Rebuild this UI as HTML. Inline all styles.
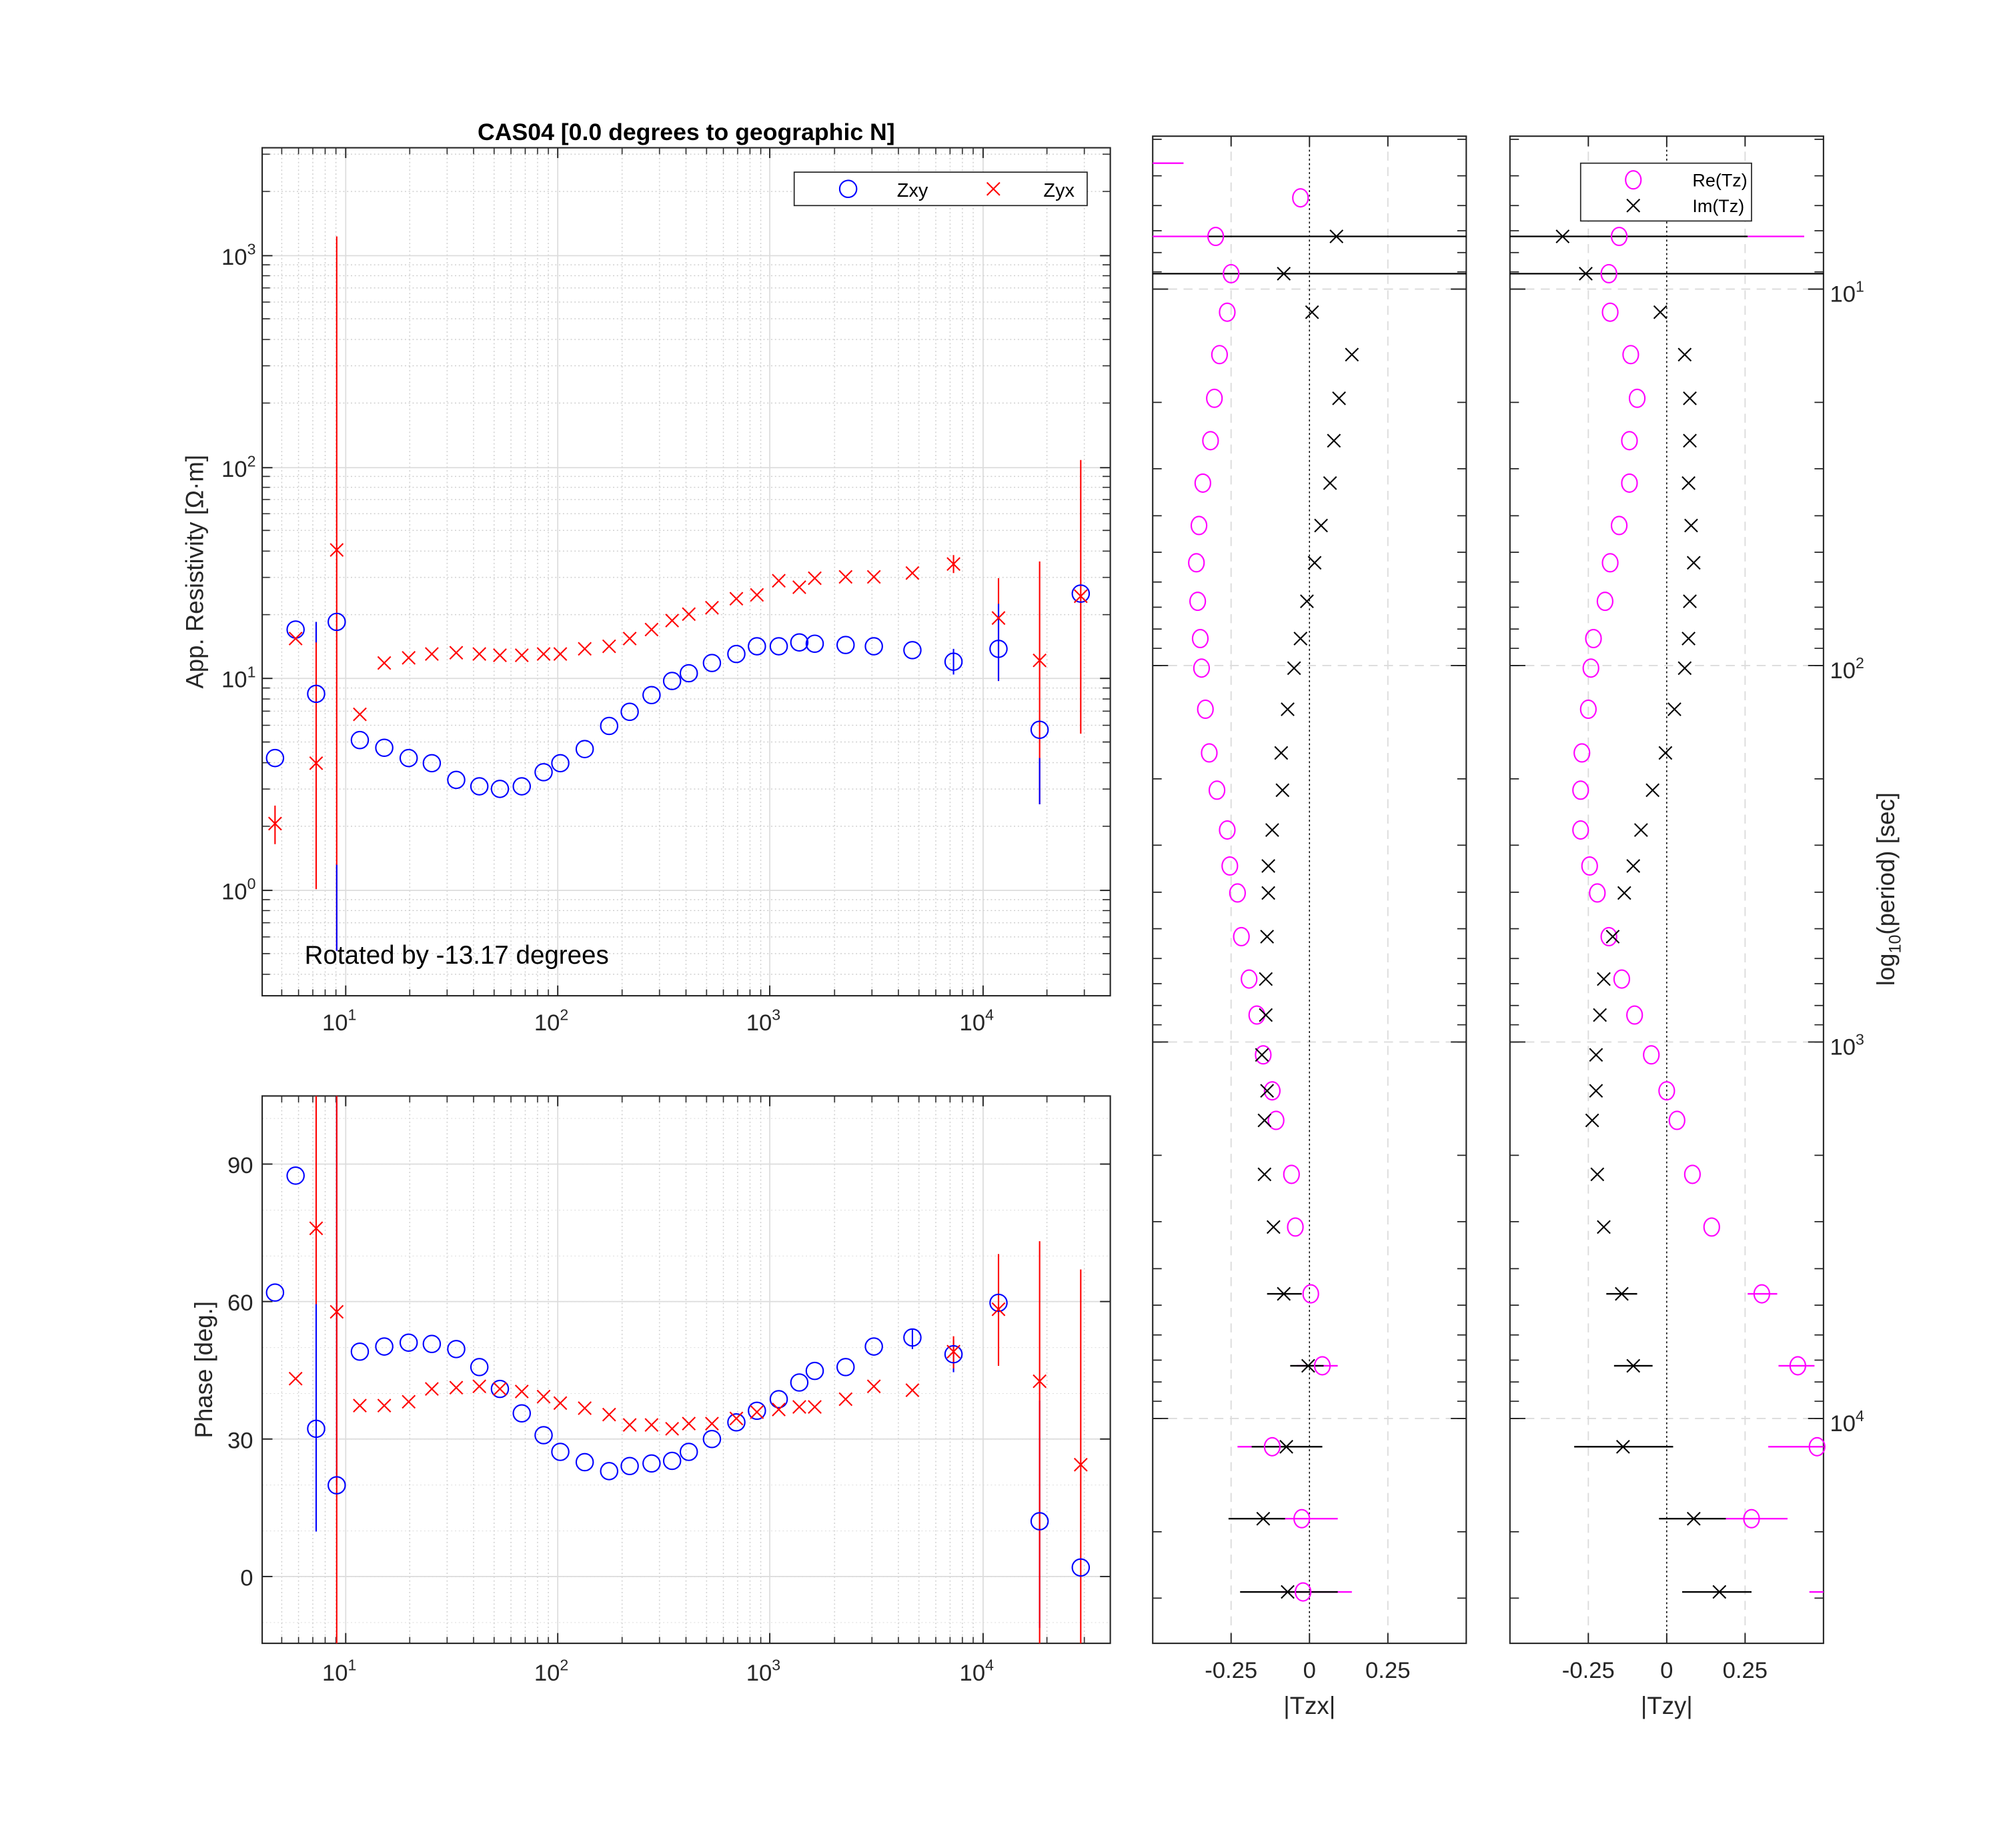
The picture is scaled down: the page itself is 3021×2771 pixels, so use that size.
<!DOCTYPE html>
<html><head><meta charset="utf-8"><style>html,body{margin:0;padding:0;background:#fff}svg{display:block}</style></head><body>
<svg xmlns="http://www.w3.org/2000/svg" xmlns:xlink="http://www.w3.org/1999/xlink" width="3021" height="2771" viewBox="0 0 1568 1438.3" font-family="Liberation Sans, sans-serif">
<defs>
<circle id="c" r="6.6" fill="none" stroke-width="1.1"/>
<ellipse id="e" rx="6" ry="7" fill="none" stroke-width="1.1"/>
<path id="x" d="M-5-5L5 5M-5 5L5-5" fill="none" stroke-width="1.1"/>
<pattern id="gxm" patternUnits="userSpaceOnUse" x="269" y="0" width="165.3" height="3">
<g stroke="#c8c8c8" stroke-width="0.7"><line x1="49.8" y1="0" x2="49.8" y2="1"/><line x1="78.9" y1="0" x2="78.9" y2="1"/><line x1="99.5" y1="0" x2="99.5" y2="1"/><line x1="115.5" y1="0" x2="115.5" y2="1"/><line x1="128.6" y1="0" x2="128.6" y2="1"/><line x1="139.7" y1="0" x2="139.7" y2="1"/><line x1="149.3" y1="0" x2="149.3" y2="1"/><line x1="157.7" y1="0" x2="157.7" y2="1"/></g></pattern>
<pattern id="gym" patternUnits="userSpaceOnUse" x="0" y="363.3" width="3" height="164.7">
<g stroke="#c8c8c8" stroke-width="0.7"><line y1="115.1" x1="0" y2="115.1" x2="1"/><line y1="86.1" x1="0" y2="86.1" x2="1"/><line y1="65.6" x1="0" y2="65.6" x2="1"/><line y1="49.5" x1="0" y2="49.5" x2="1"/><line y1="36.5" x1="0" y2="36.5" x2="1"/><line y1="25.5" x1="0" y2="25.5" x2="1"/><line y1="16" x1="0" y2="16" x2="1"/><line y1="7.5" x1="0" y2="7.5" x2="1"/></g></pattern>
<pattern id="gph" patternUnits="userSpaceOnUse" x="0" y="1227" width="3" height="35.67">
<line x1="0" y1="0" x2="1" y2="0" stroke="#c8c8c8" stroke-width="0.7"/></pattern>
<pattern id="txm" patternUnits="userSpaceOnUse" x="269" y="0" width="165.3" height="10">
<g stroke="#222" stroke-width="0.8"><line x1="49.8" y1="0" x2="49.8" y2="10"/><line x1="78.9" y1="0" x2="78.9" y2="10"/><line x1="99.5" y1="0" x2="99.5" y2="10"/><line x1="115.5" y1="0" x2="115.5" y2="10"/><line x1="128.6" y1="0" x2="128.6" y2="10"/><line x1="139.7" y1="0" x2="139.7" y2="10"/><line x1="149.3" y1="0" x2="149.3" y2="10"/><line x1="157.7" y1="0" x2="157.7" y2="10"/></g></pattern>
<pattern id="tym" patternUnits="userSpaceOnUse" x="0" y="363.3" width="10" height="164.7">
<g stroke="#222" stroke-width="0.8"><line y1="115.1" x1="0" y2="115.1" x2="10"/><line y1="86.1" x1="0" y2="86.1" x2="10"/><line y1="65.6" x1="0" y2="65.6" x2="10"/><line y1="49.5" x1="0" y2="49.5" x2="10"/><line y1="36.5" x1="0" y2="36.5" x2="10"/><line y1="25.5" x1="0" y2="25.5" x2="10"/><line y1="16" x1="0" y2="16" x2="10"/><line y1="7.5" x1="0" y2="7.5" x2="10"/></g></pattern>
<pattern id="ttk" patternUnits="userSpaceOnUse" x="0" y="225" width="10" height="293">
<g stroke="#222" stroke-width="0.9"><line y1="0" x1="0" y2="0" x2="10"/><line y1="88.2" x1="0" y2="88.2" x2="10"/><line y1="139.8" x1="0" y2="139.8" x2="10"/><line y1="176.4" x1="0" y2="176.4" x2="10"/><line y1="204.8" x1="0" y2="204.8" x2="10"/><line y1="228" x1="0" y2="228" x2="10"/><line y1="247.6" x1="0" y2="247.6" x2="10"/><line y1="264.6" x1="0" y2="264.6" x2="10"/><line y1="279.6" x1="0" y2="279.6" x2="10"/></g></pattern>
</defs>

<!-- ===== TOP PANEL ===== -->
<rect x="204" y="115" width="660" height="660" fill="url(#gxm)"/>
<rect x="204" y="115" width="660" height="660" fill="url(#gym)"/>
<g stroke="#dcdcdc" stroke-width="0.9">
<line x1="269" y1="115" x2="269" y2="775"/><line x1="434" y1="115" x2="434" y2="775"/><line x1="599" y1="115" x2="599" y2="775"/><line x1="765" y1="115" x2="765" y2="775"/>
<line x1="204" y1="199" x2="864" y2="199"/><line x1="204" y1="364" x2="864" y2="364"/><line x1="204" y1="528" x2="864" y2="528"/><line x1="204" y1="693" x2="864" y2="693"/>
</g>
<rect x="204" y="115" width="6" height="660" fill="url(#tym)"/>
<rect x="858" y="115" width="6" height="660" fill="url(#tym)"/>
<rect x="204" y="115" width="660" height="5" fill="url(#txm)"/>
<rect x="204" y="770" width="660" height="5" fill="url(#txm)"/>
<g stroke="#222" stroke-width="1">
<line x1="269" y1="115" x2="269" y2="123"/><line x1="434" y1="115" x2="434" y2="123"/><line x1="599" y1="115" x2="599" y2="123"/><line x1="765" y1="115" x2="765" y2="123"/>
<line x1="269" y1="767" x2="269" y2="775"/><line x1="434" y1="767" x2="434" y2="775"/><line x1="599" y1="767" x2="599" y2="775"/><line x1="765" y1="767" x2="765" y2="775"/>
<line x1="204" y1="199" x2="212" y2="199"/><line x1="204" y1="364" x2="212" y2="364"/><line x1="204" y1="528" x2="212" y2="528"/><line x1="204" y1="693" x2="212" y2="693"/>
<line x1="856" y1="199" x2="864" y2="199"/><line x1="856" y1="364" x2="864" y2="364"/><line x1="856" y1="528" x2="864" y2="528"/><line x1="856" y1="693" x2="864" y2="693"/>
</g>
<rect x="204" y="115" width="660" height="660" fill="none" stroke="#262626" stroke-width="1.1"/>
<g stroke="#f00" stroke-width="1.1">
<line x1="214" y1="627" x2="214" y2="657"/><line x1="246" y1="484" x2="246" y2="692"/><line x1="262" y1="184" x2="262" y2="740"/>
<line x1="742" y1="432" x2="742" y2="446"/><line x1="777" y1="450" x2="777" y2="530"/><line x1="809" y1="437" x2="809" y2="626"/><line x1="841" y1="358" x2="841" y2="571"/>
</g>
<g stroke="#00f" stroke-width="1.1">
<line x1="262" y1="673" x2="262" y2="740"/><line x1="742" y1="505" x2="742" y2="525"/><line x1="777" y1="470" x2="777" y2="530"/><line x1="809" y1="590" x2="809" y2="626"/><line x1="246" y1="484" x2="246" y2="500"/>
</g>
<g stroke="#00f">
<use xlink:href="#c" x="214" y="590"/><use xlink:href="#c" x="230" y="490"/><use xlink:href="#c" x="246" y="540"/><use xlink:href="#c" x="262" y="484"/><use xlink:href="#c" x="280" y="576"/><use xlink:href="#c" x="299" y="582"/><use xlink:href="#c" x="318" y="590"/><use xlink:href="#c" x="336" y="594"/><use xlink:href="#c" x="355" y="607"/><use xlink:href="#c" x="373" y="612"/><use xlink:href="#c" x="389" y="614"/><use xlink:href="#c" x="406" y="612"/><use xlink:href="#c" x="423" y="601"/><use xlink:href="#c" x="436" y="594"/><use xlink:href="#c" x="455" y="583"/><use xlink:href="#c" x="474" y="565"/><use xlink:href="#c" x="490" y="554"/><use xlink:href="#c" x="507" y="541"/><use xlink:href="#c" x="523" y="530"/><use xlink:href="#c" x="536" y="524"/><use xlink:href="#c" x="554" y="516"/><use xlink:href="#c" x="573" y="509"/><use xlink:href="#c" x="589" y="503"/><use xlink:href="#c" x="606" y="503"/><use xlink:href="#c" x="622" y="500"/><use xlink:href="#c" x="634" y="501"/><use xlink:href="#c" x="658" y="502"/><use xlink:href="#c" x="680" y="503"/><use xlink:href="#c" x="710" y="506"/><use xlink:href="#c" x="742" y="515"/><use xlink:href="#c" x="777" y="505"/><use xlink:href="#c" x="809" y="568"/><use xlink:href="#c" x="841" y="462"/>
</g>
<g stroke="#f00">
<use xlink:href="#x" x="214" y="641"/><use xlink:href="#x" x="230" y="497"/><use xlink:href="#x" x="246" y="594"/><use xlink:href="#x" x="262" y="428"/><use xlink:href="#x" x="280" y="556"/><use xlink:href="#x" x="299" y="516"/><use xlink:href="#x" x="318" y="512"/><use xlink:href="#x" x="336" y="509"/><use xlink:href="#x" x="355" y="508"/><use xlink:href="#x" x="373" y="509"/><use xlink:href="#x" x="389" y="510"/><use xlink:href="#x" x="406" y="510"/><use xlink:href="#x" x="423" y="509"/><use xlink:href="#x" x="436" y="509"/><use xlink:href="#x" x="455" y="505"/><use xlink:href="#x" x="474" y="503"/><use xlink:href="#x" x="490" y="497"/><use xlink:href="#x" x="507" y="490"/><use xlink:href="#x" x="523" y="483"/><use xlink:href="#x" x="536" y="478"/><use xlink:href="#x" x="554" y="473"/><use xlink:href="#x" x="573" y="466"/><use xlink:href="#x" x="589" y="463"/><use xlink:href="#x" x="606" y="452"/><use xlink:href="#x" x="622" y="457"/><use xlink:href="#x" x="634" y="450"/><use xlink:href="#x" x="658" y="449"/><use xlink:href="#x" x="680" y="449"/><use xlink:href="#x" x="710" y="446"/><use xlink:href="#x" x="742" y="439"/><use xlink:href="#x" x="777" y="481"/><use xlink:href="#x" x="809" y="514"/><use xlink:href="#x" x="841" y="464"/>
</g>
<rect x="618" y="134" width="228" height="26" fill="#fff" stroke="#262626" stroke-width="0.9"/>
<use xlink:href="#c" x="660" y="147" stroke="#00f"/>
<text x="698" y="153" font-size="15">Zxy</text>
<use xlink:href="#x" x="773" y="147" stroke="#f00"/>
<text x="812" y="153" font-size="15">Zyx</text>
<text x="534" y="109" font-size="18.5" font-weight="bold" text-anchor="middle">CAS04 [0.0 degrees to geographic N]</text>
<g font-size="18" fill="#262626">
<text x="199" y="206" text-anchor="end">10<tspan font-size="12" dy="-8">3</tspan></text>
<text x="199" y="371" text-anchor="end">10<tspan font-size="12" dy="-8">2</tspan></text>
<text x="199" y="535" text-anchor="end">10<tspan font-size="12" dy="-8">1</tspan></text>
<text x="199" y="700" text-anchor="end">10<tspan font-size="12" dy="-8">0</tspan></text>
<text x="264" y="802" text-anchor="middle">10<tspan font-size="12" dy="-8">1</tspan></text>
<text x="429" y="802" text-anchor="middle">10<tspan font-size="12" dy="-8">2</tspan></text>
<text x="594" y="802" text-anchor="middle">10<tspan font-size="12" dy="-8">3</tspan></text>
<text x="760" y="802" text-anchor="middle">10<tspan font-size="12" dy="-8">4</tspan></text>
</g>
<text transform="translate(158,445) rotate(-90)" font-size="19" text-anchor="middle" fill="#262626">App. Resistivity [Ω·m]</text>
<text x="237" y="750" font-size="20">Rotated by -13.17 degrees</text>

<!-- ===== PHASE PANEL ===== -->
<rect x="204" y="853" width="660" height="426" fill="url(#gxm)"/>
<rect x="204" y="853" width="660" height="426" fill="url(#gph)"/>
<g stroke="#dcdcdc" stroke-width="0.9">
<line x1="269" y1="853" x2="269" y2="1279"/><line x1="434" y1="853" x2="434" y2="1279"/><line x1="599" y1="853" x2="599" y2="1279"/><line x1="765" y1="853" x2="765" y2="1279"/>
<line x1="204" y1="906" x2="864" y2="906"/><line x1="204" y1="1013" x2="864" y2="1013"/><line x1="204" y1="1120" x2="864" y2="1120"/><line x1="204" y1="1227" x2="864" y2="1227"/>
</g>
<rect x="204" y="853" width="660" height="5" fill="url(#txm)"/>
<rect x="204" y="1274" width="660" height="5" fill="url(#txm)"/>
<g stroke="#222" stroke-width="1">
<line x1="269" y1="853" x2="269" y2="861"/><line x1="434" y1="853" x2="434" y2="861"/><line x1="599" y1="853" x2="599" y2="861"/><line x1="765" y1="853" x2="765" y2="861"/>
<line x1="269" y1="1271" x2="269" y2="1279"/><line x1="434" y1="1271" x2="434" y2="1279"/><line x1="599" y1="1271" x2="599" y2="1279"/><line x1="765" y1="1271" x2="765" y2="1279"/>
<line x1="204" y1="906" x2="212" y2="906"/><line x1="204" y1="1013" x2="212" y2="1013"/><line x1="204" y1="1120" x2="212" y2="1120"/><line x1="204" y1="1227" x2="212" y2="1227"/>
<line x1="856" y1="906" x2="864" y2="906"/><line x1="856" y1="1013" x2="864" y2="1013"/><line x1="856" y1="1120" x2="864" y2="1120"/><line x1="856" y1="1227" x2="864" y2="1227"/>
</g>
<rect x="204" y="853" width="660" height="426" fill="none" stroke="#262626" stroke-width="1.1"/>
<g stroke="#00f" stroke-width="1.1">
<line x1="246" y1="1015" x2="246" y2="1192"/><line x1="262" y1="853" x2="262" y2="1156"/><line x1="710" y1="1034" x2="710" y2="1050"/><line x1="742" y1="1043" x2="742" y2="1068"/><line x1="809" y1="1090" x2="809" y2="1267"/>
</g>
<g stroke="#f00" stroke-width="1.1">
<line x1="246" y1="853" x2="246" y2="1015"/><line x1="262" y1="853" x2="262" y2="1279"/><line x1="742" y1="1040" x2="742" y2="1065"/><line x1="777" y1="976" x2="777" y2="1063"/><line x1="809" y1="966" x2="809" y2="1279"/><line x1="841" y1="988" x2="841" y2="1279"/>
</g>
<g stroke="#00f">
<use xlink:href="#c" x="214" y="1006"/><use xlink:href="#c" x="230" y="915"/><use xlink:href="#c" x="246" y="1112"/><use xlink:href="#c" x="262" y="1156"/><use xlink:href="#c" x="280" y="1052"/><use xlink:href="#c" x="299" y="1048"/><use xlink:href="#c" x="318" y="1045"/><use xlink:href="#c" x="336" y="1046"/><use xlink:href="#c" x="355" y="1050"/><use xlink:href="#c" x="373" y="1064"/><use xlink:href="#c" x="389" y="1081"/><use xlink:href="#c" x="406" y="1100"/><use xlink:href="#c" x="423" y="1117"/><use xlink:href="#c" x="436" y="1130"/><use xlink:href="#c" x="455" y="1138"/><use xlink:href="#c" x="474" y="1145"/><use xlink:href="#c" x="490" y="1141"/><use xlink:href="#c" x="507" y="1139"/><use xlink:href="#c" x="523" y="1137"/><use xlink:href="#c" x="536" y="1130"/><use xlink:href="#c" x="554" y="1120"/><use xlink:href="#c" x="573" y="1107"/><use xlink:href="#c" x="589" y="1098"/><use xlink:href="#c" x="606" y="1089"/><use xlink:href="#c" x="622" y="1076"/><use xlink:href="#c" x="634" y="1067"/><use xlink:href="#c" x="658" y="1064"/><use xlink:href="#c" x="680" y="1048"/><use xlink:href="#c" x="710" y="1041"/><use xlink:href="#c" x="742" y="1054"/><use xlink:href="#c" x="777" y="1014"/><use xlink:href="#c" x="809" y="1184"/><use xlink:href="#c" x="841" y="1220"/>
</g>
<g stroke="#f00">
<use xlink:href="#x" x="230" y="1073"/><use xlink:href="#x" x="246" y="956"/><use xlink:href="#x" x="262" y="1021"/><use xlink:href="#x" x="280" y="1094"/><use xlink:href="#x" x="299" y="1094"/><use xlink:href="#x" x="318" y="1091"/><use xlink:href="#x" x="336" y="1081"/><use xlink:href="#x" x="355" y="1080"/><use xlink:href="#x" x="373" y="1079"/><use xlink:href="#x" x="389" y="1081"/><use xlink:href="#x" x="406" y="1083"/><use xlink:href="#x" x="423" y="1087"/><use xlink:href="#x" x="436" y="1092"/><use xlink:href="#x" x="455" y="1096"/><use xlink:href="#x" x="474" y="1101"/><use xlink:href="#x" x="490" y="1109"/><use xlink:href="#x" x="507" y="1109"/><use xlink:href="#x" x="523" y="1112"/><use xlink:href="#x" x="536" y="1108"/><use xlink:href="#x" x="554" y="1108"/><use xlink:href="#x" x="573" y="1104"/><use xlink:href="#x" x="589" y="1099"/><use xlink:href="#x" x="606" y="1097"/><use xlink:href="#x" x="622" y="1095"/><use xlink:href="#x" x="634" y="1095"/><use xlink:href="#x" x="658" y="1089"/><use xlink:href="#x" x="680" y="1079"/><use xlink:href="#x" x="710" y="1082"/><use xlink:href="#x" x="742" y="1052"/><use xlink:href="#x" x="777" y="1019"/><use xlink:href="#x" x="809" y="1075"/><use xlink:href="#x" x="841" y="1140"/>
</g>
<g font-size="18" fill="#262626">
<text x="197" y="913" text-anchor="end">90</text>
<text x="197" y="1020" text-anchor="end">60</text>
<text x="197" y="1127" text-anchor="end">30</text>
<text x="197" y="1234" text-anchor="end">0</text>
<text x="264" y="1308" text-anchor="middle">10<tspan font-size="12" dy="-8">1</tspan></text>
<text x="429" y="1308" text-anchor="middle">10<tspan font-size="12" dy="-8">2</tspan></text>
<text x="594" y="1308" text-anchor="middle">10<tspan font-size="12" dy="-8">3</tspan></text>
<text x="760" y="1308" text-anchor="middle">10<tspan font-size="12" dy="-8">4</tspan></text>
</g>
<text transform="translate(165,1066) rotate(-90)" font-size="19" text-anchor="middle" fill="#262626">Phase [deg.]</text>

<!-- ===== TIPPER PANELS ===== -->
<g stroke="#dcdcdc" stroke-width="1" stroke-dasharray="7,5">
<line x1="958" y1="106" x2="958" y2="1279"/><line x1="1080" y1="106" x2="1080" y2="1279"/>
<line x1="897" y1="225" x2="1141" y2="225"/><line x1="897" y1="518" x2="1141" y2="518"/><line x1="897" y1="811" x2="1141" y2="811"/><line x1="897" y1="1104" x2="1141" y2="1104"/>
<line x1="1236" y1="106" x2="1236" y2="1279"/><line x1="1358" y1="106" x2="1358" y2="1279"/>
<line x1="1175" y1="225" x2="1419" y2="225"/><line x1="1175" y1="518" x2="1419" y2="518"/><line x1="1175" y1="811" x2="1419" y2="811"/><line x1="1175" y1="1104" x2="1419" y2="1104"/>
</g>
<g stroke="#000" stroke-width="0.8" stroke-dasharray="1.5,2">
<line x1="1019" y1="106" x2="1019" y2="1279"/><line x1="1297" y1="106" x2="1297" y2="1279"/>
</g>
<rect x="897" y="106" width="7" height="1173" fill="url(#ttk)"/>
<rect x="1134" y="106" width="7" height="1173" fill="url(#ttk)"/>
<rect x="1175" y="106" width="7" height="1173" fill="url(#ttk)"/>
<rect x="1412" y="106" width="7" height="1173" fill="url(#ttk)"/>
<g stroke="#222" stroke-width="1">
<line x1="897" y1="225" x2="909" y2="225"/><line x1="897" y1="518" x2="909" y2="518"/><line x1="897" y1="811" x2="909" y2="811"/><line x1="897" y1="1104" x2="909" y2="1104"/>
<line x1="1129" y1="225" x2="1141" y2="225"/><line x1="1129" y1="518" x2="1141" y2="518"/><line x1="1129" y1="811" x2="1141" y2="811"/><line x1="1129" y1="1104" x2="1141" y2="1104"/>
<line x1="1175" y1="225" x2="1187" y2="225"/><line x1="1175" y1="518" x2="1187" y2="518"/><line x1="1175" y1="811" x2="1187" y2="811"/><line x1="1175" y1="1104" x2="1187" y2="1104"/>
<line x1="1407" y1="225" x2="1419" y2="225"/><line x1="1407" y1="518" x2="1419" y2="518"/><line x1="1407" y1="811" x2="1419" y2="811"/><line x1="1407" y1="1104" x2="1419" y2="1104"/>
<line x1="958" y1="106" x2="958" y2="114"/><line x1="1019" y1="106" x2="1019" y2="114"/><line x1="1080" y1="106" x2="1080" y2="114"/>
<line x1="958" y1="1271" x2="958" y2="1279"/><line x1="1019" y1="1271" x2="1019" y2="1279"/><line x1="1080" y1="1271" x2="1080" y2="1279"/>
<line x1="1236" y1="106" x2="1236" y2="114"/><line x1="1297" y1="106" x2="1297" y2="114"/><line x1="1358" y1="106" x2="1358" y2="114"/>
<line x1="1236" y1="1271" x2="1236" y2="1279"/><line x1="1297" y1="1271" x2="1297" y2="1279"/><line x1="1358" y1="1271" x2="1358" y2="1279"/>
</g>
<rect x="897" y="106" width="244" height="1173" fill="none" stroke="#262626" stroke-width="1.1"/>
<rect x="1175" y="106" width="244" height="1173" fill="none" stroke="#262626" stroke-width="1.1"/>

<g stroke="#f0f" stroke-width="1.2">
<line x1="897" y1="127" x2="921" y2="127"/><line x1="897" y1="184" x2="940" y2="184"/>
<line x1="1009" y1="1063" x2="1041" y2="1063"/><line x1="963" y1="1126" x2="1002" y2="1126"/><line x1="997" y1="1182" x2="1041" y2="1182"/><line x1="997" y1="1239" x2="1052" y2="1239"/>
<line x1="1360" y1="184" x2="1404" y2="184"/><line x1="1360" y1="1007" x2="1383" y2="1007"/><line x1="1384" y1="1063" x2="1412" y2="1063"/><line x1="1376" y1="1126" x2="1419" y2="1126"/><line x1="1343" y1="1182" x2="1391" y2="1182"/><line x1="1408" y1="1239" x2="1419" y2="1239"/>
</g>
<g stroke="#000" stroke-width="1.2">
<line x1="940" y1="184" x2="1141" y2="184"/><line x1="897" y1="213" x2="1141" y2="213"/>
<line x1="986" y1="1007" x2="1013" y2="1007"/><line x1="1004" y1="1063" x2="1030" y2="1063"/><line x1="974" y1="1126" x2="1029" y2="1126"/><line x1="956" y1="1182" x2="1000" y2="1182"/><line x1="965" y1="1239" x2="1041" y2="1239"/>
<line x1="1175" y1="184" x2="1360" y2="184"/><line x1="1175" y1="213" x2="1419" y2="213"/>
<line x1="1250" y1="1007" x2="1274" y2="1007"/><line x1="1256" y1="1063" x2="1286" y2="1063"/><line x1="1225" y1="1126" x2="1302" y2="1126"/><line x1="1291" y1="1182" x2="1343" y2="1182"/><line x1="1309" y1="1239" x2="1363" y2="1239"/>
</g>
<g stroke="#f0f">
<use xlink:href="#e" x="1012" y="154"/><use xlink:href="#e" x="946" y="184"/><use xlink:href="#e" x="958" y="213"/><use xlink:href="#e" x="955" y="243"/><use xlink:href="#e" x="949" y="276"/><use xlink:href="#e" x="945" y="310"/><use xlink:href="#e" x="942" y="343"/><use xlink:href="#e" x="936" y="376"/><use xlink:href="#e" x="933" y="409"/><use xlink:href="#e" x="931" y="438"/><use xlink:href="#e" x="932" y="468"/><use xlink:href="#e" x="934" y="497"/><use xlink:href="#e" x="935" y="520"/><use xlink:href="#e" x="938" y="552"/><use xlink:href="#e" x="941" y="586"/><use xlink:href="#e" x="947" y="615"/><use xlink:href="#e" x="955" y="646"/><use xlink:href="#e" x="957" y="674"/><use xlink:href="#e" x="963" y="695"/><use xlink:href="#e" x="966" y="729"/><use xlink:href="#e" x="972" y="762"/><use xlink:href="#e" x="978" y="790"/><use xlink:href="#e" x="983" y="821"/><use xlink:href="#e" x="990" y="849"/><use xlink:href="#e" x="993" y="872"/><use xlink:href="#e" x="1005" y="914"/><use xlink:href="#e" x="1008" y="955"/><use xlink:href="#e" x="1020" y="1007"/><use xlink:href="#e" x="1029" y="1063"/><use xlink:href="#e" x="990" y="1126"/><use xlink:href="#e" x="1013" y="1182"/><use xlink:href="#e" x="1014" y="1239"/>
</g>
<g stroke="#000">
<use xlink:href="#x" x="1040" y="184"/><use xlink:href="#x" x="999" y="213"/><use xlink:href="#x" x="1021" y="243"/><use xlink:href="#x" x="1052" y="276"/><use xlink:href="#x" x="1042" y="310"/><use xlink:href="#x" x="1038" y="343"/><use xlink:href="#x" x="1035" y="376"/><use xlink:href="#x" x="1028" y="409"/><use xlink:href="#x" x="1023" y="438"/><use xlink:href="#x" x="1017" y="468"/><use xlink:href="#x" x="1012" y="497"/><use xlink:href="#x" x="1007" y="520"/><use xlink:href="#x" x="1002" y="552"/><use xlink:href="#x" x="997" y="586"/><use xlink:href="#x" x="998" y="615"/><use xlink:href="#x" x="990" y="646"/><use xlink:href="#x" x="987" y="674"/><use xlink:href="#x" x="987" y="695"/><use xlink:href="#x" x="986" y="729"/><use xlink:href="#x" x="985" y="762"/><use xlink:href="#x" x="985" y="790"/><use xlink:href="#x" x="982" y="821"/><use xlink:href="#x" x="986" y="849"/><use xlink:href="#x" x="984" y="872"/><use xlink:href="#x" x="984" y="914"/><use xlink:href="#x" x="991" y="955"/><use xlink:href="#x" x="999" y="1007"/><use xlink:href="#x" x="1018" y="1063"/><use xlink:href="#x" x="1001" y="1126"/><use xlink:href="#x" x="983" y="1182"/><use xlink:href="#x" x="1002" y="1239"/>
</g>
<g stroke="#f0f">
<use xlink:href="#e" x="1260" y="184"/><use xlink:href="#e" x="1252" y="213"/><use xlink:href="#e" x="1253" y="243"/><use xlink:href="#e" x="1269" y="276"/><use xlink:href="#e" x="1274" y="310"/><use xlink:href="#e" x="1268" y="343"/><use xlink:href="#e" x="1268" y="376"/><use xlink:href="#e" x="1260" y="409"/><use xlink:href="#e" x="1253" y="438"/><use xlink:href="#e" x="1249" y="468"/><use xlink:href="#e" x="1240" y="497"/><use xlink:href="#e" x="1238" y="520"/><use xlink:href="#e" x="1236" y="552"/><use xlink:href="#e" x="1231" y="586"/><use xlink:href="#e" x="1230" y="615"/><use xlink:href="#e" x="1230" y="646"/><use xlink:href="#e" x="1237" y="674"/><use xlink:href="#e" x="1243" y="695"/><use xlink:href="#e" x="1252" y="729"/><use xlink:href="#e" x="1262" y="762"/><use xlink:href="#e" x="1272" y="790"/><use xlink:href="#e" x="1285" y="821"/><use xlink:href="#e" x="1297" y="849"/><use xlink:href="#e" x="1305" y="872"/><use xlink:href="#e" x="1317" y="914"/><use xlink:href="#e" x="1332" y="955"/><use xlink:href="#e" x="1371" y="1007"/><use xlink:href="#e" x="1399" y="1063"/><use xlink:href="#e" x="1414" y="1126"/><use xlink:href="#e" x="1363" y="1182"/>
</g>
<g stroke="#000">
<use xlink:href="#x" x="1216" y="184"/><use xlink:href="#x" x="1234" y="213"/><use xlink:href="#x" x="1292" y="243"/><use xlink:href="#x" x="1311" y="276"/><use xlink:href="#x" x="1315" y="310"/><use xlink:href="#x" x="1315" y="343"/><use xlink:href="#x" x="1314" y="376"/><use xlink:href="#x" x="1316" y="409"/><use xlink:href="#x" x="1318" y="438"/><use xlink:href="#x" x="1315" y="468"/><use xlink:href="#x" x="1314" y="497"/><use xlink:href="#x" x="1311" y="520"/><use xlink:href="#x" x="1303" y="552"/><use xlink:href="#x" x="1296" y="586"/><use xlink:href="#x" x="1286" y="615"/><use xlink:href="#x" x="1277" y="646"/><use xlink:href="#x" x="1271" y="674"/><use xlink:href="#x" x="1264" y="695"/><use xlink:href="#x" x="1255" y="729"/><use xlink:href="#x" x="1248" y="762"/><use xlink:href="#x" x="1245" y="790"/><use xlink:href="#x" x="1242" y="821"/><use xlink:href="#x" x="1242" y="849"/><use xlink:href="#x" x="1239" y="872"/><use xlink:href="#x" x="1243" y="914"/><use xlink:href="#x" x="1248" y="955"/><use xlink:href="#x" x="1262" y="1007"/><use xlink:href="#x" x="1271" y="1063"/><use xlink:href="#x" x="1263" y="1126"/><use xlink:href="#x" x="1318" y="1182"/><use xlink:href="#x" x="1338" y="1239"/>
</g>
<rect x="1230" y="127" width="133" height="45" fill="#fff" stroke="#262626" stroke-width="0.9"/>
<use xlink:href="#e" x="1271" y="140" stroke="#f0f"/>
<text x="1317" y="145" font-size="14">Re(Tz)</text>
<use xlink:href="#x" x="1271" y="160" stroke="#000"/>
<text x="1317" y="165" font-size="14">Im(Tz)</text>

<g font-size="18" fill="#262626" text-anchor="middle">
<text x="958" y="1306">-0.25</text><text x="1019" y="1306">0</text><text x="1080" y="1306">0.25</text>
<text x="1236" y="1306">-0.25</text><text x="1297" y="1306">0</text><text x="1358" y="1306">0.25</text>
</g>
<g font-size="19" fill="#262626" text-anchor="middle">
<text x="1019" y="1334">|Tzx|</text><text x="1297" y="1334">|Tzy|</text>
</g>
<g font-size="18" fill="#262626">
<text x="1424" y="235">10<tspan font-size="12" dy="-8">1</tspan></text>
<text x="1424" y="528">10<tspan font-size="12" dy="-8">2</tspan></text>
<text x="1424" y="821">10<tspan font-size="12" dy="-8">3</tspan></text>
<text x="1424" y="1114">10<tspan font-size="12" dy="-8">4</tspan></text>
</g>
<text transform="translate(1474,692) rotate(-90)" font-size="19" text-anchor="middle" fill="#262626">log<tspan font-size="13" dy="5">10</tspan><tspan dy="-5">(period) [sec]</tspan></text>
</svg>
</body></html>
